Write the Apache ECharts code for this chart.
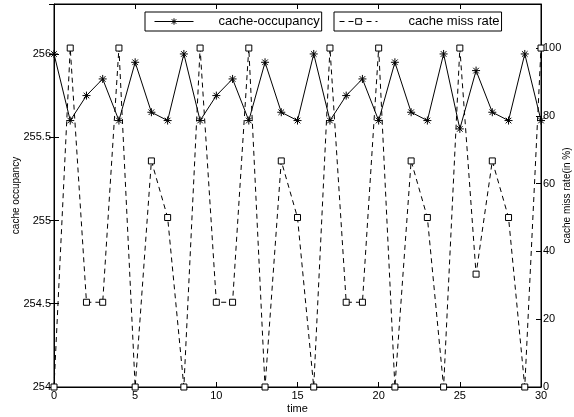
<!DOCTYPE html>
<html>
<head>
<meta charset="utf-8">
<script src="https://cdn.jsdelivr.net/npm/echarts@6/dist/echarts.min.js"></script>
<style>html,body{margin:0;padding:0;background:#fff}#c{width:574px;height:417px}</style>
</head>
<body>
<div id="c"></div>
<script>
const times = [0,1,2,3,4,5,6,7,8,9,10,11,12,13,14,15,16,17,18,19,20,21,22,23,24,25,26,27,28,29,30];
const occupancy = [256,255.6,255.75,255.85,255.6,255.95,255.65,255.6,256,255.6,255.75,255.85,255.6,255.95,255.65,255.6,256,255.6,255.75,255.85,255.6,255.95,255.65,255.6,256,255.55,255.9,255.65,255.6,256,255.6];
const missRate = [0,100,25,25,100,0,66.7,50,0,100,25,25,100,0,66.7,50,0,100,25,25,100,0,66.7,50,0,100,33.3,66.7,50,0,100];
const xTicks = [0,5,10,15,20,25,30];
const leftTicks = [254,254.5,255,255.5,256];
const rightTicks = [0,20,40,60,80,100];

const FONT = 'Liberation Sans, Arial, Helvetica, sans-serif';
const star = 'path://M0,-5L0,5M-5,0L5,0M-3.5,-3.5L3.5,3.5M-3.5,3.5L3.5,-3.5';
const chart = echarts.init(document.getElementById('c'), null, {renderer:'canvas'});
const baseY = {
  axisLine:{show:true, lineStyle:{color:'#000', width:1}},
  axisTick:{show:true, inside:true, length:5, lineStyle:{color:'#000'}},
  splitLine:{show:false},
  axisLabel:{color:'#000', fontSize:11, fontFamily:FONT, margin:3},
  nameTextStyle:{color:'#000', fontSize:10, fontFamily:FONT},
  nameMoveOverlap:false
};
chart.setOption({
  animation:false,
  backgroundColor:'#fff',
  textStyle:{fontFamily:FONT},
  grid:{left:54, right:33, top:4, bottom:30, containLabel:false, outerBoundsMode:'none', show:true, borderColor:'#000', borderWidth:1},
  legend:[
    {data:['cache-occupancy'], left:145, top:12, orient:'horizontal',
     padding:[3,2,3,9], itemWidth:39, itemHeight:8,
     lineStyle:{width:1}, itemStyle:{borderWidth:1},
     borderColor:'#000', borderWidth:1, borderRadius:0, backgroundColor:'#fff',
     textStyle:{color:'#000', fontSize:13, fontFamily:FONT, padding:[0,0,0,20]}},
    {data:['cache miss rate'], left:334, top:12, orient:'horizontal',
     padding:[3,2,3,5], itemWidth:38, itemHeight:7,
     lineStyle:{width:1}, itemStyle:{borderWidth:1},
     borderColor:'#000', borderWidth:1, borderRadius:0, backgroundColor:'#fff',
     textStyle:{color:'#000', fontSize:13, fontFamily:FONT, padding:[0,0,0,26]}}
  ],
  xAxis:[
    {type:'value', min:0, max:30, interval:5, position:'bottom',
     name:'time', nameLocation:'middle', nameGap:16, nameMoveOverlap:false,
     nameTextStyle:{color:'#000', fontSize:11, fontFamily:FONT},
     axisLine:{show:true, onZero:false, lineStyle:{color:'#000', width:1}},
     axisTick:{show:true, inside:true, length:5, lineStyle:{color:'#000'}},
     splitLine:{show:false},
     axisLabel:{color:'#000', fontSize:11, fontFamily:FONT, margin:3,
       formatter:v => xTicks.includes(v) ? String(v) : ''}},
    {type:'value', min:0, max:30, interval:5, position:'top',
     axisLine:{show:true, onZero:false, lineStyle:{color:'#000', width:1}},
     axisTick:{show:true, inside:true, length:5, lineStyle:{color:'#000'}},
     splitLine:{show:false}, axisLabel:{show:false}}
  ],
  yAxis:[
    Object.assign({}, baseY, {type:'value', min:254, max:256.3, interval:0.5, position:'left',
      name:'cache occupancy', nameLocation:'middle', nameGap:33,
      axisLine:{show:true, onZero:false, lineStyle:{color:'#000', width:1}},
      axisLabel:Object.assign({}, baseY.axisLabel, {formatter:v => leftTicks.includes(v) ? String(v) : ''})}),
    Object.assign({}, baseY, {type:'value', min:0, max:113, interval:20, position:'right',
      name:'cache miss rate(in %)', nameLocation:'middle', nameGap:21,
      axisLine:{show:true, onZero:false, lineStyle:{color:'#000', width:1}},
      axisLabel:Object.assign({}, baseY.axisLabel, {margin:2, formatter:v => rightTicks.includes(v) ? String(v) : ''})}),
    {type:'value', min:254, max:256.3, interval:0.5, position:'right', offset:0,
     axisLine:{show:false}, axisTick:{show:true, inside:true, length:5, lineStyle:{color:'#000'}},
     splitLine:{show:false}, axisLabel:{show:false}}
  ],
  series:[
    {name:'cache-occupancy', type:'line', xAxisIndex:0, yAxisIndex:0,
     data:times.map((t,i)=>[t, occupancy[i]]),
     symbol:star, symbolSize:8, showAllSymbol:true,
     lineStyle:{color:'#000', width:1, type:'solid'},
     itemStyle:{color:'none', borderColor:'#000', borderWidth:1},
     z:3},
    {name:'cache miss rate', type:'line', xAxisIndex:0, yAxisIndex:1,
     data:times.map((t,i)=>[t, missRate[i]]),
     symbol:'rect', symbolSize:6, showAllSymbol:true,
     lineStyle:{color:'#000', width:1, type:[5,4]},
     itemStyle:{color:'#fff', borderColor:'#000', borderWidth:1},
     z:2}
  ]
});
</script>
</body>
</html>
